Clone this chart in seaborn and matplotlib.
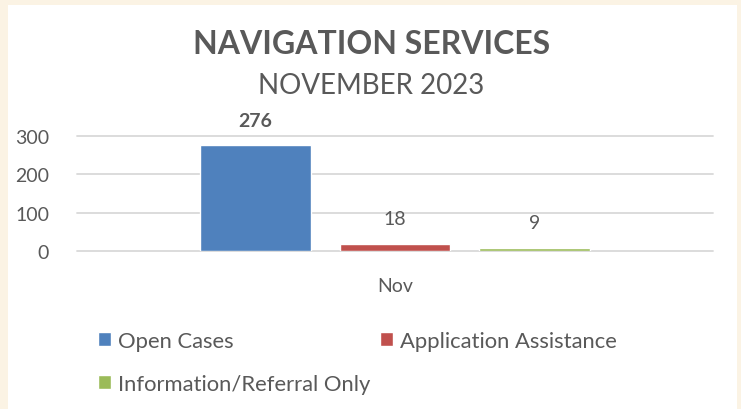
import matplotlib
matplotlib.use("Agg")
import matplotlib.pyplot as plt
import seaborn as sns
import pandas as pd
from matplotlib.patches import Rectangle

months = ["Nov"]
series = ["Open Cases", "Application Assistance", "Information/Referral Only"]
values = [276, 18, 9]
colors = ["#4F81BD", "#C0504D", "#9BBB59"]
yticks = [0, 100, 200, 300]
title = "NAVIGATION SERVICES"
subtitle = "NOVEMBER 2023"

df = pd.DataFrame({"month": months * len(series), "series": series, "value": values})

sns.set_theme(style="white")
plt.rcParams["font.family"] = ["Lato", "DejaVu Sans"]
text_c = "#595959"

fig = plt.figure(figsize=(7.41, 4.10), dpi=100)
fig.patch.set_facecolor("#FBF3E4")
fig.patches.append(Rectangle((8 / 741, 0), (737 - 8) / 741, (410 - 6) / 410,
                             transform=fig.transFigure, facecolor="white",
                             edgecolor="none", zorder=-5))

ax = fig.add_axes([77 / 741, 158 / 410, 636 / 741, 115 / 410])
ax.set_facecolor("none")
sns.barplot(data=df, x="month", y="value", hue="series", hue_order=series,
            palette=colors, width=0.66, gap=0.207, ax=ax, legend=True,
            saturation=1)
ax.set_xlim(-0.5, 0.5)
ax.set_ylim(0, 300)
ax.set_yticks(yticks)
ax.yaxis.grid(True, color="#D9D9D9", linewidth=1.3, clip_on=False)
ax.set_axisbelow(True)
for s in ax.spines.values():
    s.set_visible(False)
ax.tick_params(axis="both", length=0, labelsize=14, labelcolor=text_c)
ax.tick_params(axis="y", pad=20)
ax.tick_params(axis="x", pad=19)
ax.set_xlabel("")
ax.set_ylabel("")

for i, cont in enumerate(ax.containers):
    ax.bar_label(cont, labels=[str(int(v)) for v in cont.datavalues], padding=12,
                 fontsize=14, color=text_c,
                 fontweight="bold" if i == 0 else "normal", clip_on=False)

handles, labels = ax.get_legend_handles_labels()
ax.get_legend().remove()
order = [0, 2, 1]
fig.legend([handles[i] for i in order], [labels[i] for i in order], ncol=2,
           loc="upper left",
           bbox_to_anchor=(78 / 741, 1 - 312 / 410), frameon=False,
           fontsize=15.8, labelcolor=text_c, handlelength=0.6, handleheight=0.6,
           handletextpad=0.3, columnspacing=0.45, labelspacing=1.05)

fig.text(372 / 741, 1 - 44 / 410, title, ha="center", va="center",
         fontsize=23, fontweight="bold", color=text_c)
fig.text(371 / 741, 1 - 86 / 410, subtitle, ha="center", va="center",
         fontsize=20, color=text_c)

fig.savefig("out.png", dpi=100, facecolor=fig.get_facecolor())
